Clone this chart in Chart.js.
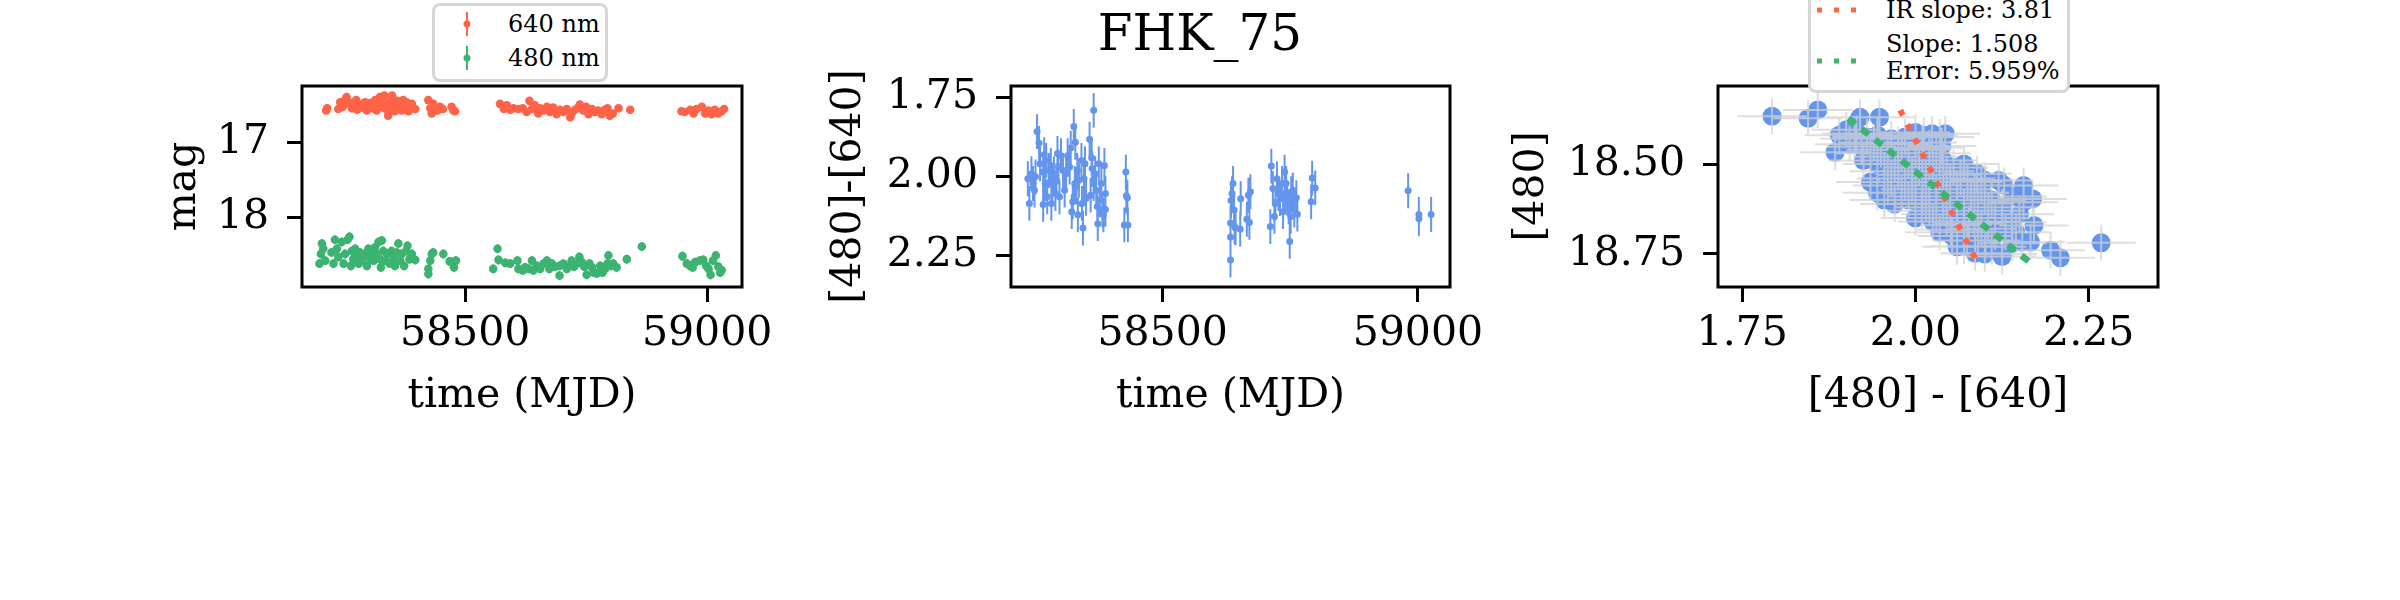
<!DOCTYPE html>
<html>
<head>
<meta charset="utf-8">
<title>FHK_75</title>
<script src="https://cdn.jsdelivr.net/npm/chart.js@4.4.1/dist/chart.umd.min.js"></script>
<style>
  html, body { margin: 0; padding: 0; background: #fff; }
  #fig { position: relative; width: 2400px; height: 600px; overflow: hidden; font-family: 'DejaVu Serif', serif; color: #000; }
  #fig canvas { position: absolute; left: 0; top: 0; }
  #fig svg { position: absolute; left: 0; top: 0; }
  .txt { position: absolute; white-space: nowrap; font-size: 24px; line-height: 27px; }
  .legend-box { position: absolute; box-sizing: border-box; background: #fff; border: 3px solid #d6d6d6; border-radius: 8px; }
  #suptitle { position: absolute; left: 0; top: 8px; width: 2400px; text-align: center; font-size: 50px; line-height: 50px; }
</style>
</head>
<body>
<div id="fig">
  <canvas id="cMag" width="2400" height="600"></canvas>
  <canvas id="cColour" width="2400" height="600"></canvas>
  <canvas id="cCmd" width="2400" height="600"></canvas>

  <div id="suptitle">FHK_75</div>

  <!-- legend, light curve panel -->
  <div class="legend-box" style="left:432px;top:3px;width:176px;height:79px"></div>
  <div class="txt" style="left:508px;top:11px">640 nm</div>
  <div class="txt" style="left:508px;top:45px">480 nm</div>

  <!-- legend, colour-magnitude panel -->
  <div class="legend-box" style="left:1808px;top:-30px;width:262px;height:123px"></div>
  <div class="txt" style="left:1886px;top:-3px">IR slope: 3.81</div>
  <div class="txt" style="left:1886px;top:31px">Slope: 1.508</div>
  <div class="txt" style="left:1886px;top:58px">Error: 5.959%</div>

  <svg width="2400" height="600">
    <line x1="467" y1="12" x2="467" y2="36" stroke="#ff6347" stroke-width="2"/>
    <circle cx="467" cy="24" r="3.5" fill="#ff6347"/>
    <line x1="467" y1="46" x2="467" y2="70" stroke="#3cb371" stroke-width="2"/>
    <circle cx="467" cy="58" r="3.5" fill="#3cb371"/>
    <line x1="1817" y1="10" x2="1857" y2="10" stroke="#ff6347" stroke-width="5" stroke-dasharray="5 12"/>
    <line x1="1817" y1="61" x2="1857" y2="61" stroke="#3cb371" stroke-width="5" stroke-dasharray="5 12"/>
  </svg>
</div>

<script>
// ---- data ------------------------------------------------------------

// 640 nm light curve: [MJD, mag]
const band640 = [
  [58213,16.57],[58215,16.54],[58238,16.55],[58242,16.46],[58247,16.52],[58252,16.43],[58255,16.39],[58261,16.48],
  [58266,16.54],[58269,16.46],[58275,16.43],[58277,16.56],[58283,16.49],[58288,16.53],[58293,16.46],[58297,16.57],
  [58300,16.50],[58304,16.47],[58309,16.54],[58314,16.43],[58317,16.57],[58321,16.48],[58324,16.39],[58328,16.45],
  [58330,16.53],[58333,16.37],[58335,16.49],[58338,16.56],[58341,16.64],[58344,16.46],[58346,16.54],[58349,16.37],
  [58352,16.49],[58355,16.58],[58359,16.44],[58362,16.53],[58366,16.47],[58369,16.57],[58372,16.43],[58376,16.50],
  [58379,16.46],[58383,16.58],[58386,16.53],[58390,16.48],[58397,16.55],
  [58424,16.43],[58428,16.54],[58431,16.61],[58434,16.48],[58438,16.54],[58443,16.57],[58448,16.52],[58454,16.55],
  [58472,16.52],[58476,16.57],[58479,16.58],
  [58572,16.48],[58580,16.55],[58586,16.50],[58593,16.56],[58600,16.54],[58610,16.55],
  [58619,16.54],[58627,16.59],[58633,16.44],[58638,16.55],[58644,16.50],[58651,16.61],[58655,16.54],[58662,16.57],
  [58669,16.52],[58675,16.59],[58682,16.53],[58689,16.62],[58696,16.56],[58703,16.59],[58710,16.55],[58717,16.66],
  [58720,16.61],[58727,16.56],[58734,16.53],[58737,16.49],[58744,16.57],[58750,16.52],[58755,16.62],[58762,16.55],
  [58768,16.59],[58775,16.57],[58782,16.62],[58789,16.56],[58794,16.54],[58799,16.64],[58805,16.61],[58817,16.54],
  [58841,16.56],
  [58947,16.58],[58954,16.59],[58965,16.56],[58972,16.61],[58978,16.55],[58989,16.52],[58996,16.61],[59003,16.57],
  [59009,16.62],[59016,16.56],[59023,16.61],[59030,16.58],[59035,16.55]
];

// 480 nm light curve: [MJD, mag]
const band480 = [
  [58199,18.62],[58202,18.49],[58204,18.35],[58207,18.42],[58211,18.58],[58224,18.47],[58228,18.62],[58231,18.30],
  [58235,18.42],[58238,18.53],[58245,18.33],[58249,18.62],[58252,18.49],[58257,18.30],[58261,18.26],[58264,18.65],
  [58266,18.45],[58269,18.56],[58273,18.42],[58276,18.51],[58280,18.62],[58283,18.47],[58286,18.58],[58290,18.53],
  [58293,18.49],[58297,18.65],[58300,18.42],[58304,18.56],[58307,18.47],[58311,18.58],[58314,18.40],[58317,18.49],
  [58321,18.33],[58324,18.56],[58326,18.67],[58328,18.31],[58331,18.45],[58335,18.58],[58339,18.49],[58344,18.62],
  [58348,18.45],[58352,18.56],[58355,18.65],[58359,18.47],[58362,18.35],[58366,18.58],[58369,18.49],[58374,18.65],
  [58378,18.45],[58381,18.38],[58385,18.56],[58390,18.49],[58397,18.57],
  [58424,18.69],[58424,18.76],[58428,18.58],[58431,18.49],[58434,18.47],[58455,18.49],[58468,18.59],[58472,18.60],
  [58477,18.67],[58481,18.58],
  [58558,18.69],[58567,18.42],[58569,18.57],[58583,18.61],[58593,18.62],[58608,18.58],[58610,18.69],
  [58619,18.71],[58624,18.67],[58631,18.69],[58638,18.58],[58641,18.71],[58648,18.65],[58655,18.69],[58662,18.62],
  [58669,18.58],[58674,18.69],[58679,18.62],[58686,18.66],[58695,18.78],[58695,18.65],[58703,18.62],[58710,18.69],
  [58717,18.65],[58720,18.58],[58725,18.66],[58731,18.62],[58736,18.53],[58741,18.60],[58746,18.66],[58751,18.77],
  [58757,18.62],[58762,18.67],[58766,18.74],[58772,18.75],[58779,18.65],[58784,18.74],[58789,18.69],[58794,18.62],
  [58796,18.51],[58801,18.65],[58806,18.62],[58813,18.67],[58834,18.56],[58865,18.39],
  [58949,18.52],[58958,18.62],[58965,18.65],[58970,18.67],[58975,18.60],[58985,18.58],[58992,18.57],[58998,18.65],
  [59003,18.69],[59007,18.77],[59012,18.58],[59018,18.51],[59023,18.66],[59027,18.74],[59030,18.71]
];
const err640 = 0.045;
const err480 = 0.06;

// colour [480]-[640] against time: [MJD, colour]
const colourCurve = [
  [58236,2.008],[58239,2.086],[58243,1.992],[58246,2.023],[58249,2.044],[58251,2.002],[58254,1.859],[58258,1.896],
  [58260,1.961],[58266,1.987],[58266,2.089],[58268,1.932],[58270,2.023],[58272,1.950],[58274,2.065],[58277,1.982],
  [58281,1.966],[58282,2.086],[58284,2.023],[58287,1.992],[58290,2.055],[58292,2.013],[58294,1.928],[58296,1.971],
  [58298,2.065],[58301,1.935],[58305,1.982],[58308,2.044],[58311,1.992],[58314,1.935],[58318,1.971],[58320,1.911],
  [58322,2.112],[58324,2.081],[58326,1.843],[58328,2.023],[58329,1.893],[58331,2.034],[58333,1.982],[58334,2.122],
  [58336,2.013],[58341,1.950],[58342,2.086],[58344,2.164],[58346,2.008],[58348,1.961],[58350,2.070],[58357,1.883],
  [58359,2.060],[58361,1.942],[58362,1.976],[58365,1.792],[58365,2.023],[58368,1.992],[58370,2.044],[58372,2.096],
  [58373,2.150],[58375,1.961],[58377,2.075],[58380,2.023],[58382,2.107],[58384,2.122],[58386,1.966],[58388,2.055],
  [58388,2.105],
  [58425,2.154],[58428,1.987],[58429,2.062],[58431,2.068],[58432,2.154],
  [58633,2.265],[58633,2.192],[58633,2.148],[58634,2.077],[58636,2.055],[58638,2.023],[58640,2.107],[58641,2.159],
  [58643,2.164],[58652,2.167],[58653,2.071],[58665,2.136],[58668,2.060],[58670,2.146],[58672,2.049],
  [58711,2.159],[58713,1.968],[58716,2.039],[58719,2.127],[58721,2.086],[58724,2.008],[58727,2.055],[58730,2.071],
  [58734,2.023],[58736,2.112],[58739,1.987],[58740,2.055],[58742,2.023],[58744,2.070],[58747,2.096],[58749,2.206],
  [58751,2.127],[58752,2.055],[58755,2.044],[58758,2.107],[58762,2.068],[58764,2.120],
  [58791,2.081],[58793,2.006],[58799,2.037],
  [58981,2.046],[59002,2.121],[59002,2.134],[59026,2.121]
];
const errColour = 0.055;

// colour-magnitude diagram: [[480]-[640], [480]]
const cmdPoints = [
  [1.793,18.367],[1.845,18.373],[1.859,18.350],[1.920,18.370],[1.948,18.370],
  [1.884,18.467],[1.890,18.420],[1.900,18.405],[1.912,18.430],[1.905,18.445],[1.922,18.452],[1.915,18.415],
  [1.930,18.425],[1.935,18.470],[1.925,18.490],[1.940,18.440],[1.950,18.460],[1.945,18.500],[1.955,18.520],
  [1.965,18.430],[1.975,18.445],[1.985,18.425],[2.000,18.412],[2.012,18.420],[2.024,18.416],[2.035,18.425],
  [2.043,18.416],[2.038,18.450],[2.040,18.490],
  [1.960,18.480],[1.970,18.500],[1.980,18.470],[1.990,18.490],[2.000,18.460],[2.010,18.480],[2.020,18.455],
  [2.030,18.470],[1.965,18.540],[1.975,18.520],[1.985,18.550],[1.995,18.530],[2.005,18.510],[2.015,18.540],
  [2.025,18.500],[2.035,18.520],[2.045,18.530],[2.055,18.510],[2.070,18.500],[2.089,18.527],
  [1.945,18.580],[1.955,18.600],[1.970,18.611],[1.980,18.580],[1.990,18.600],[2.000,18.570],[2.010,18.590],
  [2.020,18.560],[2.030,18.580],[2.040,18.560],[2.050,18.550],[2.060,18.570],[2.075,18.550],[2.100,18.545],
  [2.120,18.546],[2.128,18.560],
  [2.000,18.650],[2.009,18.630],[2.020,18.620],[2.030,18.640],[2.040,18.610],[2.050,18.630],[2.060,18.600],
  [2.070,18.620],[2.080,18.600],[2.090,18.610],[2.100,18.590],[2.110,18.600],[2.125,18.620],[2.139,18.662],
  [2.156,18.560],[2.156,18.606],[2.169,18.597],[2.171,18.671],
  [2.035,18.690],[2.051,18.683],[2.060,18.670],[2.070,18.660],[2.077,18.666],[2.085,18.650],[2.095,18.680],
  [2.105,18.660],[2.115,18.690],[2.101,18.713],[2.074,18.713],[2.053,18.700],[2.070,18.729],[2.086,18.748],
  [2.125,18.750],[2.125,18.757],[2.140,18.720],[2.154,18.717],[2.166,18.717],[2.195,18.740],[2.209,18.761],
  [2.268,18.719],
  [1.935,18.550],[1.960,18.560],[1.995,18.560],[2.015,18.610],[2.045,18.590],[2.065,18.540],[2.085,18.580],
  [2.095,18.560],[2.105,18.630],[2.115,18.650],[2.130,18.690],[2.145,18.690],[2.090,18.700],[2.110,18.730],
  [2.060,18.640],[2.025,18.660],[2.045,18.650],[2.010,18.440],[1.975,18.480],[1.945,18.420],[2.140,18.590],
  [2.150,18.640],[2.100,18.750],[2.060,18.730]
];
const errCmdX = 0.05;
const errCmdY = 0.05;

// fitted lines (end points in data units)
const irLineX  = [1.978, 2.086];
const irLineY  = [18.350, 18.762];
const fitLineX = [1.903, 2.165];
const fitLineY = [18.373, 18.773];

// axis limits and ticks
const timeRangeMag    = [58163, 59072];
const magRange        = [16.241, 18.933];
const timeRangeColour = [58203, 59063];
const colourRange     = [1.715, 2.35];
const cmdMagRange     = [18.283, 18.842];

const timeTicks   = [58500, 59000];
const magTicks    = [17, 18];
const colourTicks = [1.75, 2.00, 2.25];
const cmdMagTicks = [18.50, 18.75];

// ---- drawing -----------------------------------------------------------

const TOMATO = '#ff6347';
const SEAGREEN = '#3cb371';
const CORNFLOWER = '#6495ed';

Chart.defaults.font.family = "'DejaVu Serif', serif";
Chart.defaults.color = '#000';
Chart.defaults.animation = false;

const toXY = pairs => pairs.map(([x, y]) => ({ x, y }));

// error bars drawn straight after their own dataset
const errorBars = {
  id: 'errorBars',
  afterDatasetDraw(chart, args) {
    const ds = chart.data.datasets[args.index];
    if (!ds.errX && !ds.errY) return;
    const xs = chart.scales.x, ys = chart.scales.y, ctx = chart.ctx;
    ctx.save();
    ctx.strokeStyle = ds.errColor;
    ctx.lineWidth = ds.errWidth;
    ctx.beginPath();
    ds.data.forEach(p => {
      const px = xs.getPixelForValue(p.x), py = ys.getPixelForValue(p.y);
      if (ds.errY) {
        ctx.moveTo(px, ys.getPixelForValue(p.y - ds.errY));
        ctx.lineTo(px, ys.getPixelForValue(p.y + ds.errY));
      }
      if (ds.errX) {
        ctx.moveTo(xs.getPixelForValue(p.x - ds.errX), py);
        ctx.lineTo(xs.getPixelForValue(p.x + ds.errX), py);
      }
    });
    ctx.stroke();
    ctx.restore();
  }
};

// matplotlib-like box round the plot area
const frame = {
  id: 'frame',
  afterDraw(chart) {
    const { ctx, chartArea: a } = chart;
    ctx.save();
    ctx.strokeStyle = '#000';
    ctx.lineWidth = 3;
    ctx.strokeRect(a.left, a.top, a.right - a.left, a.bottom - a.top);
    ctx.restore();
  }
};

function axis(o) {
  return {
    type: 'linear',
    min: o.range[0],
    max: o.range[1],
    reverse: !!o.reverse,
    afterBuildTicks: s => { s.ticks = o.ticks.map(v => ({ value: v })); },
    afterFit: s => { if (o.horizontal) s.height = o.size; else s.width = o.size; },
    ticks: {
      font: { size: 41 },
      padding: o.horizontal ? 8 : 18,
      autoSkip: false,
      maxRotation: 0,
      callback: v => o.fmt(v)
    },
    grid: { drawOnChartArea: false, drawTicks: true, tickLength: 15, tickWidth: 3, tickColor: '#000' },
    border: { display: false },
    title: { display: true, text: o.title, font: { size: 41 }, padding: 0 }
  };
}

// plot area left/right in page pixels, and the centre of the y title
function panel(id, datasets, xAxis, yAxis, plotLeft, plotRight, yTitleCentre) {
  const padLeft = yTitleCentre - 24;
  return new Chart(document.getElementById(id), {
    type: 'scatter',
    data: { datasets },
    options: {
      responsive: false,
      devicePixelRatio: 1,
      events: [],
      layout: { padding: { left: padLeft, right: 2400 - plotRight, top: 86, bottom: 179 } },
      scales: {
        x: axis(Object.assign({ horizontal: true, size: 134 }, xAxis)),
        y: axis(Object.assign({ horizontal: false, size: plotLeft - padLeft }, yAxis))
      },
      plugins: { legend: { display: false }, tooltip: { enabled: false } }
    },
    plugins: [errorBars, frame]
  });
}

const intLabel = v => String(v);
const twoDp = v => v.toFixed(2);

panel('cMag', [
  { data: toXY(band640), pointRadius: 4.3, pointBorderWidth: 0, pointBackgroundColor: TOMATO,
    errY: err640, errColor: TOMATO, errWidth: 2 },
  { data: toXY(band480), pointRadius: 4.3, pointBorderWidth: 0, pointBackgroundColor: SEAGREEN,
    errY: err480, errColor: SEAGREEN, errWidth: 2 }
],
  { range: timeRangeMag, ticks: timeTicks, fmt: intLabel, title: 'time (MJD)' },
  { range: magRange, ticks: magTicks, fmt: intLabel, title: 'mag', reverse: true },
  302, 742, 184);

panel('cColour', [
  { data: toXY(colourCurve), pointRadius: 3.5, pointBorderWidth: 0, pointBackgroundColor: CORNFLOWER,
    errY: errColour, errColor: CORNFLOWER, errWidth: 2 }
],
  { range: timeRangeColour, ticks: timeTicks, fmt: intLabel, title: 'time (MJD)' },
  { range: colourRange, ticks: colourTicks, fmt: twoDp, title: '[480]-[640]', reverse: true },
  1011, 1450, 849);

panel('cCmd', [
  { data: toXY(cmdPoints), order: 3, pointRadius: 9.5, pointBorderWidth: 0, pointBackgroundColor: CORNFLOWER,
    errX: errCmdX, errY: errCmdY, errColor: 'rgba(211,211,211,0.75)', errWidth: 2 },
  { data: irLineX.map((x, i) => ({ x, y: irLineY[i] })), order: 2, showLine: true, pointRadius: 0,
    borderColor: TOMATO, borderWidth: 6, borderDash: [6, 10], borderCapStyle: 'butt' },
  { data: fitLineX.map((x, i) => ({ x, y: fitLineY[i] })), order: 1, showLine: true, pointRadius: 0,
    borderColor: SEAGREEN, borderWidth: 6.5, borderDash: [9, 8], borderCapStyle: 'butt' }
],
  { range: colourRange, ticks: colourTicks, fmt: twoDp, title: '[480] - [640]' },
  { range: cmdMagRange, ticks: cmdMagTicks, fmt: twoDp, title: '[480]', reverse: true },
  1718, 2158, 1532);
</script>
</body>
</html>
